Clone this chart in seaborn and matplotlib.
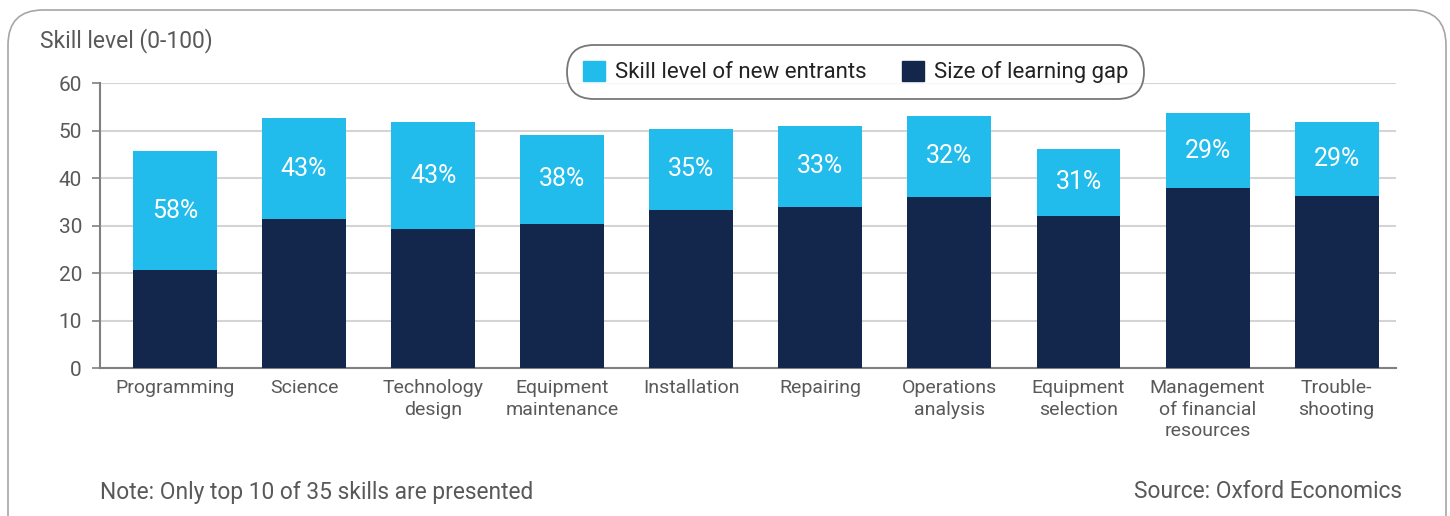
import matplotlib
matplotlib.use("Agg")
import matplotlib.pyplot as plt
import numpy as np
import pandas as pd
import seaborn as sns
from matplotlib.patches import FancyBboxPatch, Patch

skills = ["Programming", "Science", "Technology\ndesign", "Equipment\nmaintenance",
          "Installation", "Repairing", "Operations\nanalysis", "Equipment\nselection",
          "Management\nof financial\nresources", "Trouble-\nshooting"]
# top of the whole bar and top of the dark part
total_level = [45.6, 52.7, 51.7, 49.0, 50.4, 50.9, 53.0, 46.2, 53.6, 51.7]
dark_level = [20.6, 31.3, 29.2, 30.4, 33.2, 34.0, 36.1, 32.1, 37.8, 36.3]
pct_labels = ["58%", "43%", "43%", "38%", "35%", "33%", "32%", "31%", "29%", "29%"]

light_col = "#22bcec"
dark_col = "#13274d"
grey_txt = "#595959"

sns.set_theme(style="white")
plt.rcParams["font.family"] = ["Roboto", "DejaVu Sans"]

df = pd.DataFrame({"skill": skills, "total": total_level, "dark": dark_level})

fig = plt.figure(figsize=(14.5, 5.16), dpi=100)
ax = fig.add_axes([0.069, 0.2868, 0.8938, 0.5523])

sns.barplot(data=df, x="skill", y="total", color=light_col, width=0.65,
            saturation=1, linewidth=0, ax=ax, zorder=2)
sns.barplot(data=df, x="skill", y="dark", color=dark_col, width=0.65,
            saturation=1, linewidth=0, ax=ax, zorder=3)

for i, lab in enumerate(pct_labels):
    mid = (total_level[i] + dark_level[i]) / 2
    ax.text(i, mid, lab, ha="center", va="center", color="white",
            fontsize=18, zorder=4)

ax.set_xlim(-0.58, 9.46)
ax.set_ylim(0, 60)
ax.set_yticks(range(0, 61, 10))
ax.set_xlabel("")
ax.set_ylabel("")
ax.yaxis.grid(True, color="#d4d4d4", linewidth=1.5, zorder=0)
ax.set_axisbelow(True)
for s in ["top", "right"]:
    ax.spines[s].set_visible(False)
for s in ["left", "bottom"]:
    ax.spines[s].set_color("#808080")
    ax.spines[s].set_linewidth(1.5)
ax.tick_params(axis="y", left=True, length=6, width=1.2, color="#808080",
               labelsize=15, labelcolor=grey_txt, pad=7)
ax.tick_params(axis="x", bottom=False, labelsize=14, labelcolor=grey_txt, pad=2)
for t in ax.get_xticklabels():
    t.set_linespacing(1.25)

handles = [Patch(color=light_col, label="Skill level of new entrants"),
           Patch(color=dark_col, label="Size of learning gap")]
leg = fig.legend(handles=handles, ncol=2, loc="center",
                 bbox_to_anchor=(0.59, 0.8605), frameon=True, fontsize=16,
                 handlelength=1.0, handleheight=1.0, handletextpad=0.45,
                 columnspacing=1.6, borderpad=0.45)
leg.get_frame().set_edgecolor("#555555")
leg.get_frame().set_linewidth(1.3)
leg.get_frame().set_boxstyle("round,pad=0.25,rounding_size=1.2")
for t in leg.get_texts():
    t.set_color("#222222")

fig.text(40 / 1450, 1 - 41 / 516, "Skill level (0-100)", ha="left", va="center",
         fontsize=16.5, color=grey_txt)
fig.text(100 / 1450, 1 - 493 / 516, "Note: Only top 10 of 35 skills are presented",
         ha="left", va="center", fontsize=16.4, color=grey_txt)
fig.text(1402 / 1450, 1 - 492 / 516, "Source: Oxford Economics",
         ha="right", va="center", fontsize=16.4, color=grey_txt)

frame = FancyBboxPatch((8, -40), 1438, 546, boxstyle="round,pad=0,rounding_size=35",
                       transform=None, facecolor="none", edgecolor="#a6a6a6",
                       linewidth=1.2)
fig.patches.append(frame)

fig.savefig("out.png", dpi=100)
